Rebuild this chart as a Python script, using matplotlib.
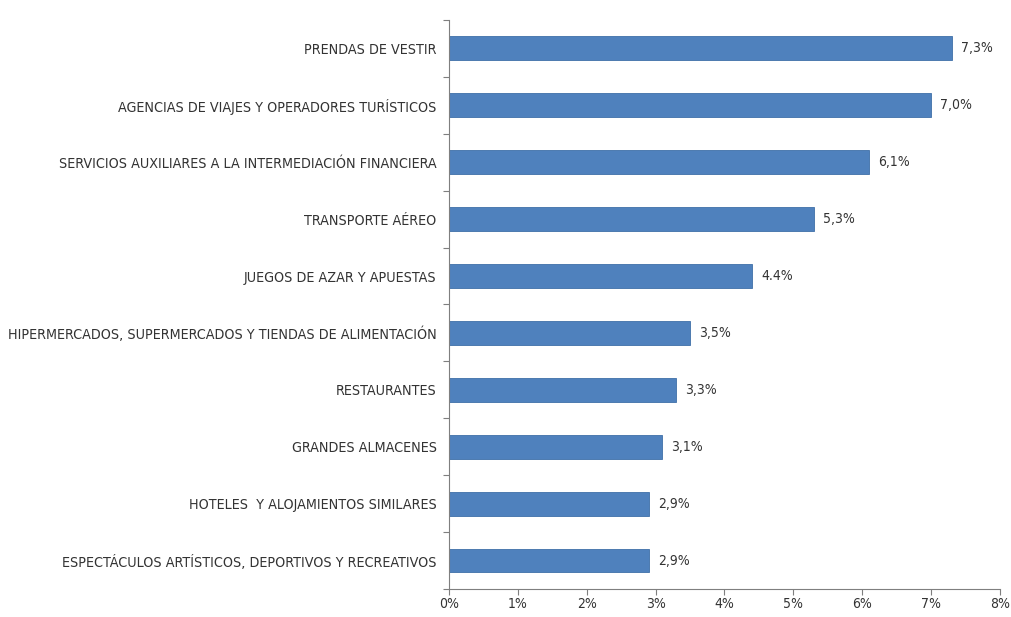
import numpy as np
import matplotlib
matplotlib.use("Agg")
import matplotlib.pyplot as plt
from matplotlib.ticker import FixedLocator

plt.rcParams['font.family'] = ['DejaVu Sans']
plt.rcParams['font.stretch'] = 'condensed'

categorias = [
    "PRENDAS DE VESTIR",
    "AGENCIAS DE VIAJES Y OPERADORES TURÍSTICOS",
    "SERVICIOS AUXILIARES A LA INTERMEDIACIÓN FINANCIERA",
    "TRANSPORTE AÉREO",
    "JUEGOS DE AZAR Y APUESTAS",
    "HIPERMERCADOS, SUPERMERCADOS Y TIENDAS DE ALIMENTACIÓN",
    "RESTAURANTES",
    "GRANDES ALMACENES",
    "HOTELES  Y ALOJAMIENTOS SIMILARES",
    "ESPECTÁCULOS ARTÍSTICOS, DEPORTIVOS Y RECREATIVOS",
]
valores = [7.3, 7.0, 6.1, 5.3, 4.4, 3.5, 3.3, 3.1, 2.9, 2.9]
etiquetas = ["7,3%", "7,0%", "6,1%", "5,3%", "4.4%", "3,5%", "3,3%", "3,1%", "2,9%", "2,9%"]
xticks = [0, 1, 2, 3, 4, 5, 6, 7, 8]

fig = plt.figure(figsize=(10.12, 6.17), dpi=100)
ax = fig.add_axes([0.4437, 0.0454, 0.5443, 0.9222])

y = np.arange(len(categorias))
ax.barh(y, valores, height=0.42, color="#4F81BD", edgecolor="#3f6fa8", linewidth=0.6)
ax.set_xlim(0, 8)
ax.set_ylim(len(categorias) - 0.5, -0.5)

for yi, v, t in zip(y, valores, etiquetas):
    ax.text(v + 0.13, yi, t, va="center", ha="left", fontsize=10, color="#333333")

ax.set_yticks(y)
ax.set_yticklabels(categorias, fontsize=10.3, color="#333333")
ax.tick_params(axis="y", which="major", length=0, pad=9)
ax.yaxis.set_minor_locator(FixedLocator(np.arange(-0.5, len(categorias), 1)))
ax.tick_params(axis="y", which="minor", length=4, color="#7f7f7f", width=0.8)

ax.set_xticks(xticks)
ax.set_xticklabels([f"{t}%" for t in xticks], fontsize=10, color="#333333")
ax.tick_params(axis="x", length=4, color="#7f7f7f", width=0.8, pad=2)

for s in ["top", "right"]:
    ax.spines[s].set_visible(False)
for s in ["left", "bottom"]:
    ax.spines[s].set_color("#7f7f7f")
    ax.spines[s].set_linewidth(0.8)

fig.savefig("out.png", dpi=100)
